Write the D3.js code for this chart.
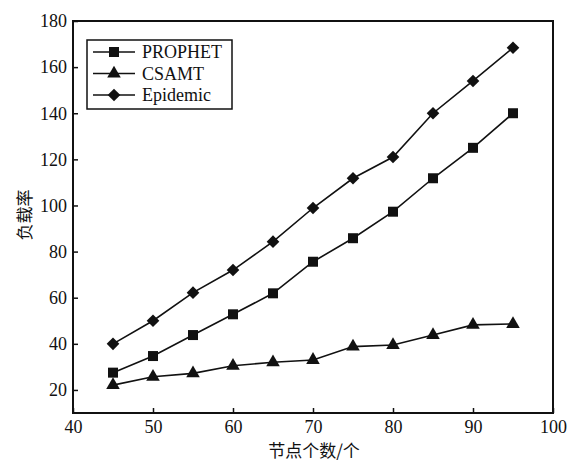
<!DOCTYPE html>
<html>
<head>
<meta charset="utf-8">
<script src="https://cdn.jsdelivr.net/npm/d3@7.9.0/dist/d3.min.js"></script>
<style>
  body { margin: 0; background: #fff; }
  svg text { font-family: "Liberation Serif", "DejaVu Serif", serif; fill: #111; }
  .cjk { font-family: "Noto Sans CJK SC", sans-serif; }
</style>
</head>
<body>
<svg id="chart" width="578" height="461"></svg>
<script>
// node counts on the x axis
const nodes = [45, 50, 55, 60, 65, 70, 75, 80, 85, 90, 95];
// load rate per protocol
const prophet = [27.5, 34.7, 43.8, 52.8, 61.9, 75.6, 85.8, 97.3, 111.8, 125, 140];
const csamt = [22.1, 25.7, 27.2, 30.5, 32, 33, 38.8, 39.5, 43.8, 48.2, 48.6];
const epidemic = [40, 50, 62.2, 72, 84.3, 98.9, 111.8, 121, 140, 154, 168.4];
const xTicks = [40, 50, 60, 70, 80, 90, 100];
const yTicks = [20, 40, 60, 80, 100, 120, 140, 160, 180];

// square turned 45 degrees, for the Epidemic marker
const diamond = {
  draw(ctx, size) {
    const r = Math.sqrt(size / 2);
    ctx.moveTo(0, -r); ctx.lineTo(r, 0); ctx.lineTo(0, r); ctx.lineTo(-r, 0); ctx.closePath();
  }
};

const series = [
  { name: 'PROPHET', values: prophet, symbol: d3.symbolSquare, size: 100 },
  { name: 'CSAMT', values: csamt, symbol: d3.symbolTriangle, size: 80 },
  { name: 'Epidemic', values: epidemic, symbol: diamond, size: 80 },
];

const svg = d3.select('#chart');
const plotL = 73, plotR = 553, plotT = 21, plotB = 413;

const x = d3.scaleLinear().domain([40, 100]).range([plotL, plotR]);
const y = d3.scaleLinear().domain([10, 180]).range([plotB, plotT]);

// frame
svg.append('rect')
  .attr('x', plotL).attr('y', plotT)
  .attr('width', plotR - plotL).attr('height', plotB - plotT)
  .attr('fill', 'none').attr('stroke', '#111').attr('stroke-width', 2);

// axes with inward ticks
const xAxis = svg.append('g')
  .attr('transform', `translate(0,${plotB})`)
  .call(d3.axisBottom(x).tickValues(xTicks).tickSizeInner(-5).tickSizeOuter(0).tickPadding(7));
const yAxis = svg.append('g')
  .attr('transform', `translate(${plotL},0)`)
  .call(d3.axisLeft(y).tickValues(yTicks).tickSizeInner(-5).tickSizeOuter(0).tickPadding(6));

[xAxis, yAxis].forEach(g => {
  g.select('.domain').remove();
  g.selectAll('line').attr('stroke', '#111').attr('stroke-width', 1.5);
  g.selectAll('text').attr('font-size', 18).attr('font-family', '"Liberation Serif", serif').attr('fill', '#111');
});

// lines and markers
const line = d3.line().x((d, i) => x(nodes[i])).y(d => y(d));
series.forEach(s => {
  svg.append('path')
    .datum(s.values)
    .attr('d', line)
    .attr('fill', 'none')
    .attr('stroke', '#111')
    .attr('stroke-width', 1.6);
  svg.selectAll(null)
    .data(s.values)
    .enter()
    .append('path')
    .attr('d', d3.symbol(s.symbol, s.size))
    .attr('transform', (d, i) => `translate(${x(nodes[i])},${y(d)})`)
    .attr('fill', '#111');
});

// legend
const legend = svg.append('g');
legend.append('rect')
  .attr('x', 87).attr('y', 40).attr('width', 145).attr('height', 69)
  .attr('fill', '#fff').attr('stroke', '#111').attr('stroke-width', 1.5);
series.forEach((s, i) => {
  const ly = 52 + i * 21.5;
  legend.append('line')
    .attr('x1', 93).attr('x2', 135).attr('y1', ly).attr('y2', ly)
    .attr('stroke', '#111').attr('stroke-width', 1.6);
  legend.append('path')
    .attr('d', d3.symbol(s.symbol, s.size))
    .attr('transform', `translate(114,${ly})`)
    .attr('fill', '#111');
  legend.append('text')
    .attr('x', 142).attr('y', ly + 6)
    .attr('font-size', 18)
    .text(s.name);
});

// axis titles
svg.append('text')
  .attr('class', 'cjk')
  .attr('x', 314).attr('y', 457)
  .attr('text-anchor', 'middle')
  .attr('font-size', 17)
  .text('节点个数/个');
svg.append('text')
  .attr('class', 'cjk')
  .attr('transform', 'translate(31,215) rotate(-90)')
  .attr('text-anchor', 'middle')
  .attr('font-size', 17)
  .text('负载率');
</script>
</body>
</html>
